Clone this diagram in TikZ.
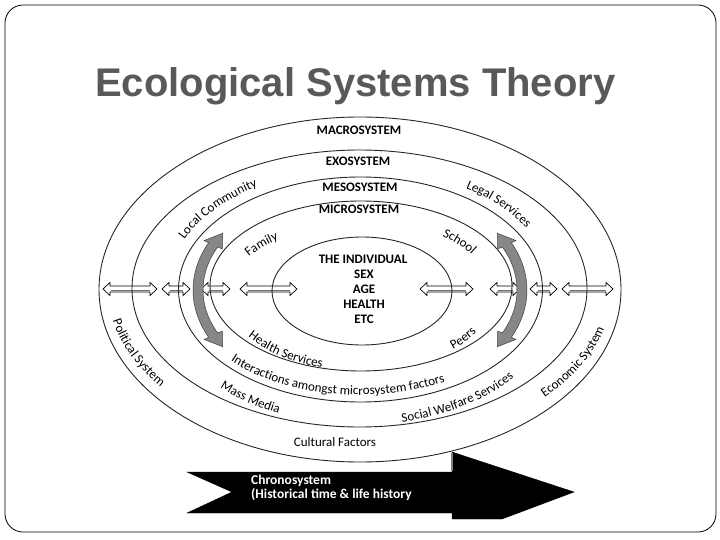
\documentclass[tikz,border=0pt]{standalone}
\usepackage{fontspec}
\setmainfont{Liberation Sans}
\newfontfamily\carl{Carlito}
\usetikzlibrary{decorations.text,calc}
\definecolor{titlegray}{RGB}{89,89,89}
\definecolor{arcgray}{RGB}{135,135,135}
\newcommand\labf{\carl\fontsize{13}{15}\selectfont}
\newcommand\hdarr[3]{%
  \filldraw[hda] ({#1},{#3}) -- ({#1+7},{#3-6.5}) -- ({#1+7},{#3-3}) -- ({#2-7},{#3-3}) -- ({#2-7},{#3-6.5}) -- ({#2},{#3}) -- ({#2-7},{#3+6.5}) -- ({#2-7},{#3+3}) -- ({#1+7},{#3+3}) -- ({#1+7},{#3+6.5}) -- cycle;
  \draw[hdshade] ({#1+7.5},{#3+1.6}) -- ({#2-7.5},{#3+1.6});}
\newcommand\ringlab[5]{%
  \path[decorate, decoration={text along path, text={|\labf|#5}, text align=center}]
    plot[domain=#3:#4, samples=50] ({360+#1*cos(\x)},{290-#2*sin(\x)});}
\newcommand\grayarc[2]{%
  \filldraw[grayarr] plot[domain=#1:#2, samples=30] ({360+157*cos(\x)},{290-102*sin(\x)})
   -- ({360+152*cos(#2)},{290-97*sin(#2)})
   -- ({360+162*cos(#2+7)},{290-107*sin(#2+7)})
   -- ({360+172*cos(#2)},{290-117*sin(#2)})
   -- plot[domain=#2:#1, samples=30] ({360+167*cos(\x)},{290-112*sin(\x)})
   -- ({360+172*cos(#1)},{290-117*sin(#1)})
   -- ({360+162*cos(#1-7)},{290-107*sin(#1-7)})
   -- ({360+152*cos(#1)},{290-97*sin(#1)})
   -- cycle;}
\tikzset{
  hda/.style={fill=white, draw=black, line width=0.7},
  hdshade/.style={draw=black!55, line width=1.4},
  ring/.style={draw=black!85, line width=0.9},
  grayarr/.style={fill=arcgray, draw=black!75, line width=0.5},
  toplab/.style={font=\carl\bfseries\fontsize{13}{15}\selectfont, anchor=base, inner sep=0},
  chronotext/.style={font=\carl\bfseries\fontsize{13.5}{15}\selectfont, text=white, anchor=base west, inner sep=0},
}
\begin{document}
\begin{tikzpicture}[x=1pt,y=-1pt]
\useasboundingbox (0,0) rectangle (720,540);
% slide frame
\draw[rounded corners=18, line width=0.8] (5,5) rectangle (716,532);
% title
\node[anchor=base west, inner sep=0, text=titlegray, font=\bfseries\fontsize{40}{44}\selectfont] (title) at (95,97) {Ecological Systems Theory};
% horizontal double arrows
\hdarr{103}{157}{289}
\hdarr{162}{190}{289}
\hdarr{201}{230}{289}
\hdarr{240}{297}{289}
\hdarr{420}{473}{289}
\hdarr{490}{520}{289}
\hdarr{530}{557}{289}
\hdarr{562}{613}{289}
% ellipses
\draw[ring] (360,289.5) ellipse [x radius=261, y radius=172.5];
\draw[ring] (359.5,288.5) ellipse [x radius=227.5, y radius=138.5];
\draw[ring] (360.5,289.5) ellipse [x radius=182, y radius=112.5];
\draw[ring] (361,286) ellipse [x radius=151, y radius=85];
\draw[ring] (362,291) ellipse [x radius=90, y radius=54];
% curved gray arrows
\grayarc{155}{205}
\grayarc{-25}{25}
% system names
\node[toplab] (macro) at (359,135) {MACROSYSTEM};
\node[toplab] (exo) at (358,166) {EXOSYSTEM};
\node[toplab] (meso) at (360,192) {MESOSYSTEM};
\node[toplab] (micro) at (359,214) {MICROSYSTEM};
\node[toplab] (ind1) at (363,263) {THE INDIVIDUAL};
\node[toplab] (ind2) at (364,278) {SEX};
\node[toplab] (ind3) at (364,293) {AGE};
\node[toplab] (ind4) at (364,308) {HEALTH};
\node[toplab] (ind5) at (364,323) {ETC};
% ring labels
\ringlab{193}{122}{177}{107}{Local Community}
\ringlab{193}{122}{75}{5}{Legal Services}
\ringlab{129}{65}{180}{110}{Family}
\ringlab{129}{70}{70}{0}{School}
\ringlab{137}{81}{195}{268}{Health Services}
\ringlab{137}{81}{300}{345}{Peers}
\ringlab{175}{105}{200}{318}{Interactions amongst microsystem factors}
\ringlab{203}{135}{210}{260}{Mass Media}
\ringlab{203}{135}{272}{332}{Social Welfare Services}
\ringlab{252}{158}{178}{228}{Political System}
\ringlab{252}{158}{308}{358}{Economic System}
\node[anchor=base, inner sep=0, font=\labf] (cultural) at (335,446) {Cultural Factors};
% chronosystem arrow
\filldraw[black] (187,472) -- (452,472) -- (452,452) -- (574,492) -- (502,519) -- (452,519) -- (452,513) -- (187,513) -- (232,492) -- cycle;
\draw[black!50, line width=2] (452,453) -- (452,471);
\node[chronotext] (chrono1) at (251,484) {Chronosystem};
\node[chronotext] (chrono2) at (251,498) {(Historical time \& life history};
\end{tikzpicture}
\end{document}
